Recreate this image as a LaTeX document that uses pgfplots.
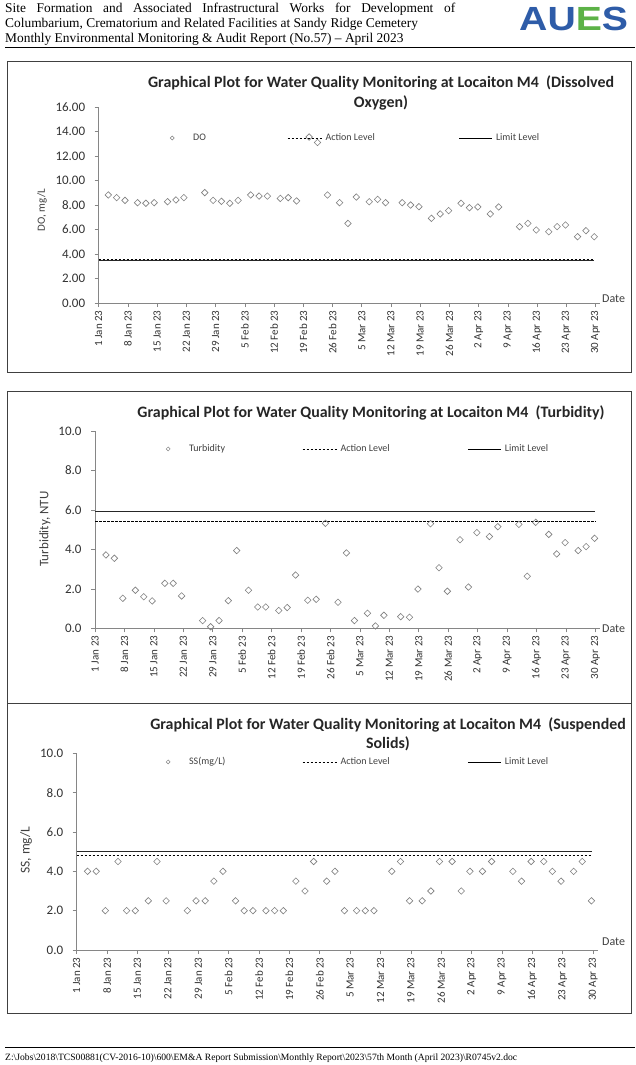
\documentclass[border=0pt]{standalone}
\usepackage{pgfplots}
\pgfplotsset{compat=1.18}
\usepackage{fontspec}
\setmainfont{Carlito}
\newfontfamily\serif{Liberation Serif}
\newfontfamily\logofont{Liberation Sans}

\definecolor{txt}{HTML}{404040}
\definecolor{axgray}{HTML}{868686}
\definecolor{mk}{HTML}{7F7F7F}
\definecolor{framec}{HTML}{404040}
\definecolor{aublue}{HTML}{2E5CA8}
\definecolor{augreen}{HTML}{5CB247}

\newcommand\xf{\fontsize{11}{13}\selectfont}
\newcommand\yf{\fontsize{13}{15}\selectfont}

\pgfplotsset{
  wq/.style={
    scale only axis, anchor=south west, clip=false,
    xmin=0, xmax=120,
    axis x line*=bottom, axis y line*=left,
    axis line style={draw=axgray, line width=0.6pt},
    major tick style={draw=axgray, line width=0.6pt},
    tick align=outside, major tick length=4pt,
    xtick={0,7,...,119},
    xticklabels={\xf 1 Jan 23,\xf 8 Jan 23,\xf 15 Jan 23,\xf 22 Jan 23,\xf 29 Jan 23,\xf 5 Feb 23,\xf 12 Feb 23,\xf 19 Feb 23,\xf 26 Feb 23,\xf 5 Mar 23,\xf 12 Mar 23,\xf 19 Mar 23,\xf 26 Mar 23,\xf 2 Apr 23,\xf 9 Apr 23,\xf 16 Apr 23,\xf 23 Apr 23,\xf 30 Apr 23},
    xticklabel style={rotate=90, anchor=east, text=black!80, font=\xf},
    yticklabel style={text=black!80, xshift=-6pt, font=\yf},
    /pgf/number format/assume math mode=true,
    /pgf/number format/fixed, /pgf/number format/fixed zerofill,
    legend columns=3,
    legend style={draw=none, fill=none, anchor=west, inner sep=0pt, column sep=0pt,
      nodes={inner sep=0pt, font=\fontsize{10}{12}\selectfont, text=txt}},
  },
  dots/.style={only marks, mark=square, mark size=2.3pt,
    mark options={rotate=45, draw=mk, fill=white, line width=0.6pt},
    legend image code/.code={\draw[mark=square, mark size=1.4pt, mark options={rotate=45, draw=mk, fill=white, line width=0.5pt}] plot coordinates {(4pt,0pt)}; \path[draw=none, fill=none] (0pt,-3pt) -- (25pt,3pt);}},
  act/.style={black, line width=0.8pt, dash pattern=on 2.5pt off 1.5pt,
    legend image code/.code={\draw[black, line width=0.8pt, dash pattern=on 2.5pt off 1.5pt] (0pt,0pt) -- (34pt,0pt); \path[draw=none, fill=none] (0pt,-3pt) -- (38pt,3pt);}},
  lim/.style={black!85, line width=1.2pt,
    legend image code/.code={\draw[black, line width=0.8pt] (0pt,0pt) -- (33pt,0pt); \path[draw=none, fill=none] (0pt,-3pt) -- (37pt,3pt);}},
}

\def\bs{\textbackslash}
\tikzset{ttl/.style={anchor=base, inner sep=0pt, font=\bfseries\fontsize{15.9}{19}\selectfont, text=black!85}}

\begin{document}
\begin{tikzpicture}[x=1pt, y=1pt]
\fill[white] (0,0) rectangle (635,-1065);

% header
\node[anchor=base west, inner sep=0pt, font=\serif\fontsize{13.4}{15}\selectfont] at (5,-13)
  {\makebox[450pt][s]{Site Formation and Associated Infrastructural Works for Development of}};
\node[anchor=base west, inner sep=0pt, font=\serif\fontsize{13.4}{15}\selectfont] at (5,-28)
  {Columbarium, Crematorium and Related Facilities at Sandy Ridge Cemetery};
\node[anchor=base west, inner sep=0pt, font=\serif\fontsize{13.4}{15}\selectfont] at (5,-43)
  {Monthly Environmental Monitoring \& Audit Report (No.57) \textendash{} April 2023};
\draw[black, line width=0.8pt] (5,-47.5) -- (635,-47.5);
\node[anchor=base west, inner sep=0pt] at (519,-31)
  {\scalebox{1.17}[1]{\logofont\bfseries\fontsize{33.5}{36}\selectfont\textcolor{aublue}{AU}\textcolor{augreen}{E}\textcolor{aublue}{S}}};

% footer
\draw[black, line width=0.8pt] (5,-1047) -- (635,-1047);
\node[anchor=base west, inner sep=0pt] at (5,-1060)
  {\resizebox{512pt}{!}{\serif\fontsize{8}{10}\selectfont Z:\bs Jobs\bs 2018\bs TCS00881(CV-2016-10)\bs 600\bs EM\&A Report Submission\bs Monthly Report\bs 2023\bs 57th Month (April 2023)\bs R0745v2.doc}};

% panel frames
\draw[framec, line width=0.8pt] (7,-61) rectangle (631,-372);
\draw[framec, line width=0.8pt] (7,-391) rectangle (631,-703);
\draw[framec, line width=0.8pt] (7,-703) rectangle (631,-1013);

% ---------- DO ----------
\node[ttl] at (381,-88) {Graphical Plot for Water Quality Monitoring at Locaiton M4\ \ (Dissolved};
\node[ttl] at (381,-107) {Oxygen)};
\node[rotate=90, font=\fontsize{11}{13}\selectfont, text=txt] at (42,-210) {DO, mg/L};
\node[anchor=west, font=\fontsize{12}{14}\selectfont, text=txt, inner sep=0pt] at (602,-299) {Date};
\begin{axis}[wq, at={(98.7pt,-303pt)}, width=501pt, height=196pt,
  ymin=0, ymax=16, ytick={0,2,...,16}, /pgf/number format/precision=2,
  yticklabel={\yf\pgfmathprintnumber{\tick}},
  legend style={at={(axis cs:16.6,13.47)}}]
\addplot[dots] coordinates {
(2.3,8.82)(4.3,8.60)(6.3,8.38)(9.3,8.19)(11.3,8.14)(13.3,8.19)(16.5,8.27)(18.5,8.41)(20.4,8.60)
(25.4,9.01)(27.4,8.38)(29.4,8.30)(31.4,8.14)(33.4,8.38)(36.4,8.82)(38.4,8.73)(40.4,8.73)
(43.5,8.54)(45.4,8.60)(47.4,8.33)(50.4,13.55)(52.4,13.1)(54.8,8.82)(57.7,8.19)(59.7,6.50)
(61.7,8.65)(64.8,8.27)(66.8,8.46)(68.7,8.19)(72.7,8.19)(74.7,8.00)(76.7,7.86)(79.7,6.91)
(81.8,7.27)(83.8,7.54)(86.8,8.14)(88.8,7.78)(90.8,7.84)(93.8,7.27)(95.8,7.84)(100.8,6.23)
(102.8,6.50)(104.8,5.96)(107.8,5.82)(109.8,6.23)(111.8,6.37)(114.7,5.41)(116.7,5.90)(118.7,5.41)};
\addlegendentry{\makebox[94pt][l]{DO}}
\addplot[act] coordinates {(0,3.6)(118.7,3.6)};
\addlegendentry{\makebox[133pt][l]{Action Level}}
\addplot[lim] coordinates {(0,3.5)(118.7,3.5)};
\addlegendentry{Limit Level}
\end{axis}

% ---------- Turbidity ----------
\node[ttl] at (371,-417) {Graphical Plot for Water Quality Monitoring at Locaiton M4\ \ (Turbidity)};
\node[rotate=90, font=\fontsize{13}{15}\selectfont, text=txt] at (45,-529) {Turbidity, NTU};
\node[anchor=west, font=\fontsize{12}{14}\selectfont, text=txt, inner sep=0pt] at (602,-629) {Date};
\begin{axis}[wq, at={(95pt,-628.3pt)}, width=504.6pt, height=197.3pt,
  ymin=0, ymax=10, ytick={0,2,...,10}, /pgf/number format/precision=1,
  yticklabel={\yf\pgfmathprintnumber{\tick}},
  legend style={at={(axis cs:16.4,9.09)}}]
\addplot[dots] coordinates {
(2.6,3.72)(4.6,3.55)(6.6,1.52)(9.6,1.93)(11.6,1.60)(13.6,1.39)(16.6,2.28)(18.6,2.28)(20.6,1.64)
(25.6,0.39)(27.5,0.08)(29.5,0.39)(31.7,1.40)(33.7,3.94)(36.5,1.93)(38.7,1.08)(40.6,1.08)
(43.7,0.90)(45.7,1.05)(47.7,2.70)(50.6,1.42)(52.6,1.47)(54.8,5.32)(57.8,1.32)(59.8,3.82)
(61.7,0.39)(64.8,0.76)(66.7,0.12)(68.7,0.66)(72.7,0.59)(74.8,0.56)(76.8,1.99)(79.8,5.30)
(81.8,3.07)(83.8,1.88)(86.8,4.49)(88.8,2.09)(90.8,4.85)(93.8,4.65)(95.8,5.15)(100.8,5.27)
(102.8,2.64)(104.8,5.37)(107.9,4.76)(109.8,3.77)(111.8,4.34)(114.9,3.94)(116.8,4.14)(118.8,4.56)};
\addlegendentry{\makebox[113pt][l]{Turbidity}}
\addplot[act] coordinates {(0,5.42)(119,5.42)};
\addlegendentry{\makebox[127pt][l]{Action Level}}
\addplot[lim] coordinates {(0,5.91)(119,5.91)};
\addlegendentry{Limit Level}
\end{axis}

% ---------- SS ----------
\node[ttl] at (388,-729) {Graphical Plot for Water Quality Monitoring at Locaiton M4\ \ (Suspended};
\node[ttl] at (388,-748) {Solids)};
\node[rotate=90, font=\fontsize{13.5}{15}\selectfont, text=txt] at (26,-850) {SS, mg/L};
\node[anchor=west, font=\fontsize{12}{14}\selectfont, text=txt, inner sep=0pt] at (602,-942) {Date};
\begin{axis}[wq, at={(76.7pt,-950pt)}, width=520.8pt, height=196.7pt,
  ymin=0, ymax=10, ytick={0,2,...,10}, /pgf/number format/precision=1,
  yticklabel={\yf\pgfmathprintnumber{\tick}},
  legend style={at={(axis cs:20.1,9.56)}}]
\addplot[dots] coordinates {
(2.5,4)(4.5,4)(6.6,2)(9.5,4.5)(11.5,2)(13.5,2)(16.5,2.5)(18.5,4.5)(20.6,2.5)
(25.5,2)(27.5,2.5)(29.6,2.5)(31.6,3.5)(33.7,4)(36.6,2.5)(38.6,2)(40.6,2)
(43.6,2)(45.6,2)(47.6,2)(50.5,3.5)(52.6,3)(54.6,4.5)(57.6,3.5)(59.5,4)
(61.7,2)(64.5,2)(66.5,2)(68.5,2)(72.6,4)(74.6,4.5)(76.7,2.5)(79.6,2.5)
(81.6,3)(83.6,4.5)(86.5,4.5)(88.6,3)(90.6,4)(93.5,4)(95.6,4.5)(100.5,4)
(102.5,3.5)(104.7,4.5)(107.6,4.5)(109.6,4)(111.6,3.5)(114.5,4)(116.5,4.5)(118.6,2.5)};
\addlegendentry{\makebox[113pt][l]{SS(mg/L)}}
\addplot[act] coordinates {(0,4.81)(118.7,4.81)};
\addlegendentry{\makebox[127pt][l]{Action Level}}
\addplot[lim] coordinates {(0,5.0)(118.7,5.0)};
\addlegendentry{Limit Level}
\end{axis}
\end{tikzpicture}
\end{document}
